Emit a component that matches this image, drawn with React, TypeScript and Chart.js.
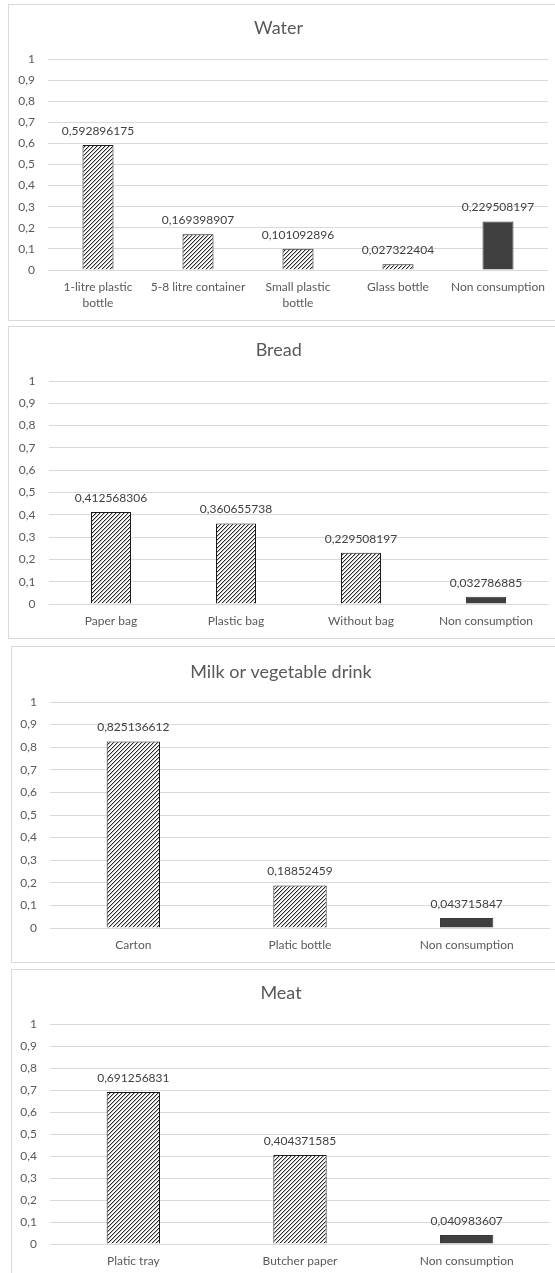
import React, { useEffect, useRef } from "react";
import { Chart, registerables } from "chart.js";

Chart.register(...registerables);

// ---- data ----
const waterCategories: (string | string[])[] = [["1-litre plastic", "bottle"], "5-8 litre container", ["Small plastic", "bottle"], "Glass bottle", "Non consumption"];
const waterValues = [0.592896175, 0.169398907, 0.101092896, 0.027322404, 0.229508197];

const breadCategories: (string | string[])[] = ["Paper bag", "Plastic bag", "Without bag", "Non consumption"];
const breadValues = [0.412568306, 0.360655738, 0.229508197, 0.032786885];

const milkCategories: (string | string[])[] = ["Carton", "Platic bottle", "Non consumption"];
const milkValues = [0.825136612, 0.18852459, 0.043715847];

const meatCategories: (string | string[])[] = ["Platic tray", "Butcher paper", "Non consumption"];
const meatValues = [0.691256831, 0.404371585, 0.040983607];

const yTickLabels = ["0", "0,1", "0,2", "0,3", "0,4", "0,5", "0,6", "0,7", "0,8", "0,9", "1"];

const FONT = "Lato, 'Open Sans', sans-serif";

function makeHatch(): CanvasPattern | string {
  const c = document.createElement("canvas");
  c.width = 8;
  c.height = 8;
  const g = c.getContext("2d");
  if (!g) return "#888";
  const img = g.createImageData(8, 8);
  for (let y = 0; y < 8; y++) {
    for (let x = 0; x < 8; x++) {
      const k = (x + y) % 4;
      const v = k === 0 ? 40 : k === 1 ? 185 : 255;
      const i = (y * 8 + x) * 4;
      img.data[i] = v;
      img.data[i + 1] = v;
      img.data[i + 2] = v;
      img.data[i + 3] = 255;
    }
  }
  g.putImageData(img, 0, 0);
  return g.createPattern(c, "repeat") || "#888";
}

const valueLabelPlugin = {
  id: "valueLabels",
  afterDatasetsDraw(chart: any) {
    const ctx = chart.ctx;
    const meta = chart.getDatasetMeta(0);
    const data = chart.data.datasets[0].data as number[];
    ctx.save();
    ctx.font = `12px ${FONT}`;
    ctx.fillStyle = "#404040";
    ctx.textAlign = "center";
    ctx.textBaseline = "middle";
    meta.data.forEach((el: any, i: number) => {
      const txt = String(data[i]).replace(".", ",");
      ctx.fillText(txt, el.x, el.y - 14);
    });
    ctx.restore();
  },
};

type PanelProps = {
  title: string;
  categories: (string | string[])[];
  values: number[];
  left: number;
  top: number;
  innerW: number;
  innerH: number;
  chartLeft: number;
  padRight: number;
  titleY: number;
  chartTop: number;
  chartBottom: number;
  barPct: number;
};

function Panel(p: PanelProps) {
  const ref = useRef<HTMLCanvasElement | null>(null);
  useEffect(() => {
    if (!ref.current) return;
    const hatch = makeHatch();
    const labelsFlat = p.categories.map((c) => (Array.isArray(c) ? c.join(" ") : c));
    const bg = labelsFlat.map((l) => (l === "Non consumption" ? "#404040" : hatch));
    const bc = labelsFlat.map((l) => (l === "Non consumption" ? "#3a3a3a" : "#1a1a1a"));
    const titleFont = 18;
    const titleLH = titleFont * 1.2;
    const tPadTop = p.titleY - titleLH / 2;
    const tPadBottom = p.chartTop - tPadTop - titleLH;
    const chart = new Chart(ref.current, {
      type: "bar",
      data: {
        labels: p.categories as any,
        datasets: [
          {
            data: p.values,
            backgroundColor: bg as any,
            borderColor: bc,
            borderWidth: 1,
            barPercentage: p.barPct,
            categoryPercentage: 1,
          },
        ],
      },
      options: {
        responsive: false,
        animation: false,
        layout: { padding: { left: 0, right: p.padRight, top: 0, bottom: 0 } },
        plugins: {
          legend: { display: false },
          tooltip: { enabled: false },
          title: {
            display: true,
            text: p.title,
            color: "#595959",
            font: { family: FONT, size: titleFont, weight: "normal", lineHeight: 1.2 },
            padding: { top: tPadTop, bottom: tPadBottom },
          },
        },
        scales: {
          x: {
            grid: { display: false, drawTicks: false },
            border: { display: false },
            ticks: {
              color: "#595959",
              font: { family: FONT, size: 12, lineHeight: 1.35 },
              padding: 9,
              autoSkip: false,
              maxRotation: 0,
              minRotation: 0,
            },
            afterFit: (scale: any) => {
              scale.height = p.innerH - p.chartBottom;
            },
          },
          y: {
            min: 0,
            max: 1,
            grid: { color: "#d9d9d9", lineWidth: 1, drawTicks: false },
            border: { display: false },
            ticks: {
              stepSize: 0.1,
              color: "#595959",
              font: { family: FONT, size: 12 },
              padding: 13,
              callback: (_v: any, i: number) => yTickLabels[i],
            },
            afterFit: (scale: any) => {
              scale.width = p.chartLeft;
            },
          },
        },
      },
      plugins: [valueLabelPlugin],
    });
    return () => chart.destroy();
  }, []);
  return (
    <div
      style={{
        position: "absolute",
        left: p.left,
        top: p.top,
        width: p.innerW + 6,
        height: p.innerH,
        border: "1px solid #d9d9d9",
        background: "#fff",
      }}
    >
      <canvas ref={ref} width={p.innerW} height={p.innerH} style={{ display: "block" }} />
    </div>
  );
}

export default function App() {
  useEffect(() => {
    document.body.style.margin = "0";
    document.body.style.overflow = "hidden";
  }, []);
  return (
    <div style={{ position: "relative", width: 555, height: 1273, overflow: "hidden", background: "#fff" }}>
      <Panel title="Water" categories={waterCategories} values={waterValues}
        left={8} top={4} innerW={546} innerH={315}
        chartLeft={39} padRight={7} titleY={23} chartTop={54} chartBottom={265} barPct={0.31} />
      <Panel title="Bread" categories={breadCategories} values={breadValues}
        left={8} top={326} innerW={546} innerH={311}
        chartLeft={39.5} padRight={6.5} titleY={23} chartTop={54} chartBottom={277} barPct={0.32} />
      <Panel title="Milk or vegetable drink" categories={milkCategories} values={milkValues}
        left={11} top={646} innerW={543} innerH={315}
        chartLeft={38} padRight={5} titleY={25} chartTop={55} chartBottom={281} barPct={0.32} />
      <Panel title="Meat" categories={meatCategories} values={meatValues}
        left={11} top={969} innerW={543} innerH={310}
        chartLeft={38} padRight={5} titleY={23} chartTop={54} chartBottom={274} barPct={0.32} />
    </div>
  );
}
